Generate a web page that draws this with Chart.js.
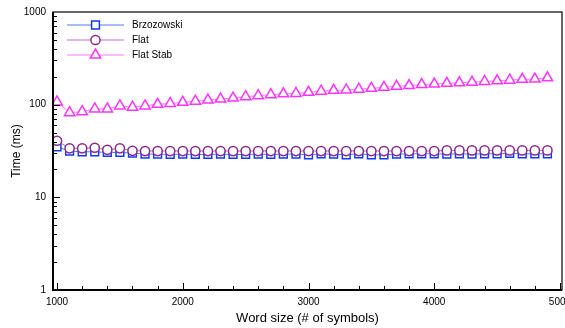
<!DOCTYPE html>
<html>
<head>
<meta charset="utf-8">
<script src="https://cdn.jsdelivr.net/npm/chart.js@4/dist/chart.umd.min.js"></script>
<style>
  html, body { margin: 0; padding: 0; background: #fff; }
  #wrap { width: 565px; height: 328px; }
</style>
</head>
<body>
<div id="wrap"><canvas id="c" width="565" height="328"></canvas></div>
<script>
// word sizes (# of symbols)
const wordSizes = [1000, 1100, 1200, 1300, 1400, 1500, 1600, 1700, 1800, 1900,
  2000, 2100, 2200, 2300, 2400, 2500, 2600, 2700, 2800, 2900,
  3000, 3100, 3200, 3300, 3400, 3500, 3600, 3700, 3800, 3900,
  4000, 4100, 4200, 4300, 4400, 4500, 4600, 4700, 4800, 4900];

// times in ms
const brzozowski = [35, 31.5, 31, 31, 30.5, 30.5, 30, 29.3, 29.3, 29,
  29.3, 29, 29, 29.3, 29, 29, 29.3, 29, 29.3, 29.3,
  28.8, 29.5, 29.2, 28.8, 29.5, 28.8, 28.8, 29.2, 29.5, 29.5,
  29.5, 29.2, 29.5, 29.2, 29.5, 29.5, 29.8, 29.5, 29.5, 29.5];
const flat = [40.8, 33.8, 33.8, 34.3, 32.6, 33.8, 31.8, 31.6, 31.6, 31.6,
  31.6, 31.6, 31.6, 31.6, 31.6, 31.6, 31.6, 31.6, 31.6, 31.6,
  31.6, 31.6, 31.6, 31.6, 31.6, 31.6, 31.6, 31.6, 31.6, 31.6,
  31.6, 32.1, 32.1, 32.1, 32.1, 32.1, 32.1, 32.1, 32.1, 32.1];
const flatStab = [107, 82, 84, 90, 90, 97, 94, 97, 101, 103,
  106, 109, 112, 115, 118, 122, 125, 128, 131, 132,
  136, 140, 143, 144, 147, 150, 154, 158, 161, 165,
  167, 170, 172, 175, 178, 181, 184, 188, 189, 195];

const xTicks = [1000, 2000, 3000, 4000, 5000];
const yTicks = [1, 10, 100, 1000];

const FONT = "'Liberation Sans', Arial, Helvetica, sans-serif";

const series = [
  { label: "Brzozowski", data: brzozowski, line: "#5a78ff", edge: "#1438ff", style: "rect", r: 5.5, order: 1 },
  { label: "Flat", data: flat, line: "#b574b5", edge: "#8a2a8e", style: "circle", r: 4.6, order: 0 },
  { label: "Flat Stab", data: flatStab, line: "#ff7aff", edge: "#ff33ff", style: "triangle", r: 6, order: 2 },
];

const toPoints = (ys) => wordSizes.map((x, i) => ({ x, y: ys[i] }));

const datasets = series.map((s) => ({
  label: s.label,
  data: toPoints(s.data),
  order: s.order,
  borderColor: s.line,
  borderWidth: 1,
  pointStyle: s.style,
  pointRadius: s.r,
  pointBorderColor: s.edge,
  pointBackgroundColor: "#fff",
  pointBorderWidth: 1.5,
  tension: 0,
}));

// frame, inward ticks and line+marker legend
const framePlugin = {
  id: "frame",
  afterDraw(chart) {
    const { ctx, chartArea: a, scales } = chart;
    const xs = scales.x, ys = scales.y;
    ctx.save();
    ctx.strokeStyle = "#000";
    ctx.lineWidth = 1.2;
    ctx.strokeRect(a.left, a.top, a.right - a.left, a.bottom - a.top);
    ctx.lineWidth = 2;
    ctx.beginPath();
    ctx.moveTo(a.left, a.top); ctx.lineTo(a.left, a.bottom); ctx.lineTo(a.right, a.bottom);
    ctx.stroke();

    ctx.lineWidth = 1;
    ctx.beginPath();
    for (let d = 1; d < 1000; d *= 10) {
      for (let k = 1; k <= 9; k++) {
        const py = Math.round(ys.getPixelForValue(d * k)) + 0.5;
        const len = k === 1 ? 7 : 4;
        ctx.moveTo(a.left, py); ctx.lineTo(a.left + len, py);
      }
    }
    for (let v = 1000; v <= 5000; v += 200) {
      const px = Math.round(xs.getPixelForValue(v)) + 0.5;
      if (px > a.right) continue;
      const len = v % 1000 === 0 ? 7 : 4;
      ctx.moveTo(px, a.bottom); ctx.lineTo(px, a.bottom - len);
    }
    ctx.stroke();

    // legend
    const rows = [25, 40, 55];
    series.forEach((s, i) => {
      const y = rows[i];
      ctx.strokeStyle = s.line;
      ctx.lineWidth = 1;
      ctx.beginPath();
      ctx.moveTo(67, y); ctx.lineTo(124, y);
      ctx.stroke();
      ctx.strokeStyle = s.edge;
      ctx.fillStyle = "#fff";
      ctx.lineWidth = 1.5;
      Chart.helpers.drawPoint(ctx, { pointStyle: s.style, radius: s.r, rotation: 0, borderWidth: 1.5 }, 95.5, y);
      ctx.fillStyle = "#000";
      ctx.font = "10px " + FONT;
      ctx.textBaseline = "middle";
      ctx.textAlign = "left";
      ctx.fillText(s.label, 132, y);
    });
    ctx.restore();
  },
};

new Chart(document.getElementById("c"), {
  type: "line",
  data: { datasets },
  plugins: [framePlugin],
  options: {
    responsive: false,
    animation: false,
    devicePixelRatio: 1,
    layout: { autoPadding: false, padding: { top: 12, right: 3, left: 0, bottom: 0 } },
    plugins: { legend: { display: false }, tooltip: { enabled: false } },
    scales: {
      x: {
        type: "linear",
        min: 968,
        max: 5016,
        afterBuildTicks: (scale) => { scale.ticks = xTicks.map((v) => ({ value: v })); },
        afterFit: (scale) => { scale.height = 38; scale.paddingLeft = 0; scale.paddingRight = 0; },
        grid: { display: false, drawTicks: false },
        border: { display: false },
        ticks: { color: "#000", font: { family: FONT, size: 10 }, padding: 6, maxRotation: 0, autoSkip: false, callback: (v) => String(v) },
        title: { display: true, text: "Word size (# of symbols)", color: "#000", font: { family: FONT, size: 13 }, padding: { top: 0, bottom: 2 } },
      },
      y: {
        type: "logarithmic",
        min: 1,
        max: 1000,
        afterBuildTicks: (scale) => { scale.ticks = yTicks.map((v) => ({ value: v })); },
        afterFit: (scale) => { scale.width = 53; scale.paddingTop = 0; scale.paddingBottom = 0; },
        grid: { display: false, drawTicks: false },
        border: { display: false },
        ticks: { color: "#000", font: { family: FONT, size: 10 }, padding: 7, callback: (v) => String(v) },
        title: { display: true, text: "Time (ms)", color: "#000", font: { family: FONT, size: 12 }, padding: { top: 9, bottom: 0 } },
      },
    },
  },
});
</script>
</body>
</html>
